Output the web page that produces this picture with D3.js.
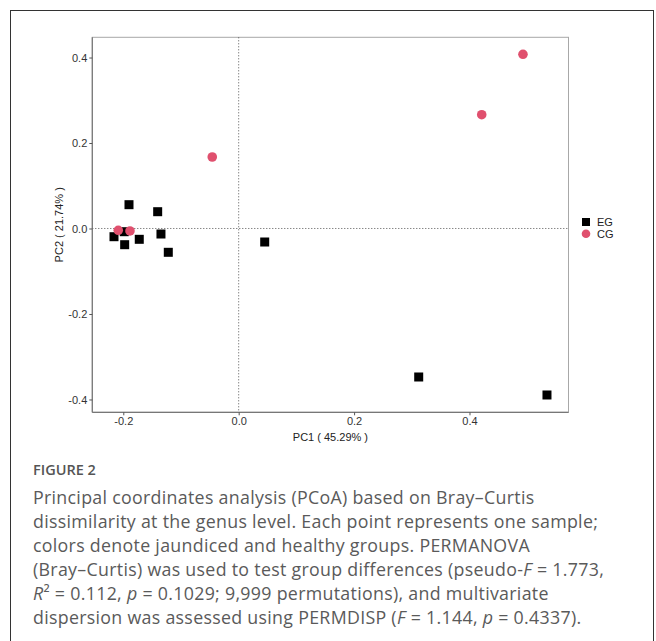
<!DOCTYPE html>
<html><head><meta charset="utf-8">
<script src="https://cdn.jsdelivr.net/npm/d3@7/dist/d3.min.js"></script>
<style>
html,body{margin:0;padding:0;background:#fff;}
svg{display:block;}
</style></head>
<body>
<svg id="c" width="656" height="641"></svg>
<script>
// ---- data ----
const egX = [-0.1901, -0.1404, -0.1983, -0.2161, -0.1723, -0.1347, -0.1976, -0.1220, 0.0451, 0.3120, 0.5343];
const egY = [0.0557, 0.0393, -0.0075, -0.0192, -0.0253, -0.0129, -0.0379, -0.0557, -0.0316, -0.3474, -0.3895];
const cgX = [0.4927, 0.4212, -0.0458, -0.2087, -0.1884];
const cgY = [0.4075, 0.2662, 0.1673, -0.0042, -0.0058];
const xTicks = [-0.2, 0.0, 0.2, 0.4];
const yTicks = [-0.4, -0.2, 0.0, 0.2, 0.4];
const groups = ["EG", "CG"];
const xTitle = "PC1 ( 45.29% )";
const yTitle = "PC2 ( 21.74% )";

const svg = d3.select("#c");
// outer frame
svg.append("rect").attr("x",10.5).attr("y",10.5).attr("width",643).attr("height",660)
  .attr("fill","none").attr("stroke","#333").attr("stroke-width",1);

const L = 92.3, R = 568.5, T = 37.3, B = 412.3;
const x = d3.scaleLinear().domain([-0.2537, 0.5716]).range([L, R]);
const y = d3.scaleLinear().domain([-0.43, 0.4473]).range([B, T]);

// panel border
svg.append("rect").attr("x",L).attr("y",T).attr("width",R-L).attr("height",B-T)
  .attr("fill","none").attr("stroke","#a8a8a8").attr("stroke-width",1);

// zero lines
svg.append("line").attr("x1",L).attr("x2",R).attr("y1",y(0)).attr("y2",y(0))
  .attr("stroke","#555").attr("stroke-width",1).attr("stroke-dasharray","1,2");
svg.append("line").attr("x1",x(0)).attr("x2",x(0)).attr("y1",T).attr("y2",B)
  .attr("stroke","#555").attr("stroke-width",1).attr("stroke-dasharray","1,2");

const fmt = v => d3.format(".1f")(v).replace("\u2212","-");
const af = "Liberation Sans, Arial, sans-serif";
const xa = svg.append("g").attr("transform",`translate(0,${B})`)
  .call(d3.axisBottom(x).tickValues(xTicks).tickFormat(fmt).tickSize(3).tickPadding(2));
const ya = svg.append("g").attr("transform",`translate(${L},0)`)
  .call(d3.axisLeft(y).tickValues(yTicks).tickFormat(fmt).tickSize(3).tickPadding(2));
[xa,ya].forEach(a=>{
  a.select(".domain").attr("stroke","#777").attr("stroke-width",1.2);
  a.selectAll(".tick line").attr("stroke","#555");
  a.selectAll(".tick text").attr("fill","#333").attr("font-family",af).attr("font-size",11);
});
ya.select(".domain").attr("d",`M0,${T}V${B}`);
xa.select(".domain").attr("d",`M${L},0H${R}`);

svg.append("text").attr("x",(L+R)/2).attr("y",441).attr("text-anchor","middle")
  .attr("font-family",af).attr("font-size",11).attr("fill","#222").text(xTitle);
svg.append("text").attr("transform",`translate(63,${(T+B)/2}) rotate(-90)`).attr("text-anchor","middle")
  .attr("font-family",af).attr("font-size",11).attr("fill","#222").text(yTitle);

const red = "#e0506e";
const S = 9;
// EG squares
svg.append("g").selectAll("rect").data(egX.map((v,i)=>[v,egY[i]])).join("rect")
  .attr("x",d=>x(d[0])-S/2).attr("y",d=>y(d[1])-S/2).attr("width",S).attr("height",S).attr("fill","#000");
// CG circles
svg.append("g").selectAll("circle").data(cgX.map((v,i)=>[v,cgY[i]])).join("circle")
  .attr("cx",d=>x(d[0])).attr("cy",d=>y(d[1])).attr("r",4.8).attr("fill",red);

// legend
const lg = svg.append("g");
lg.append("rect").attr("x",582).attr("y",218).attr("width",8).attr("height",8).attr("fill","#000");
lg.append("circle").attr("cx",586).attr("cy",233.7).attr("r",4.3).attr("fill",red);
groups.forEach((g,i)=>{
  lg.append("text").attr("x",597).attr("y",226+i*11.7).attr("font-family",af)
    .attr("font-size",11).attr("fill","#222").text(g);
});

// caption
const capFont = "Open Sans, Noto Sans, sans-serif";
svg.append("text").attr("x",33).attr("y",475).attr("font-family",capFont).attr("font-size",14.5)
  .attr("font-weight",600).attr("fill","#555").text("FIGURE 2");
const lines = [
  [["Principal coordinates analysis (PCoA) based on Bray\u2013Curtis",0]],
  [["dissimilarity at the genus level. Each point represents one sample;",0]],
  [["colors denote jaundiced and healthy groups. PERMANOVA",0]],
  [["(Bray\u2013Curtis) was used to test group differences (pseudo-",0],["F",1],[" = 1.773,",0]],
  [["R",1],["\u00B2",0],[" = 0.112, ",0],["p",1],[" = 0.1029; 9,999 permutations), and multivariate",0]],
  [["dispersion was assessed using PERMDISP (",0],["F",1],[" = 1.144, ",0],["p",1],[" = 0.4337).",0]]
];
lines.forEach((ln,i)=>{
  const t = svg.append("text").attr("x",33).attr("y",503.5+i*24).attr("font-family",capFont)
    .attr("font-size",17.8).attr("letter-spacing",0.3).attr("fill","#5a5a5a");
  ln.forEach(([s,it])=>{ t.append("tspan").attr("font-style",it?"italic":null).text(s); });
});
</script>
</body></html>
